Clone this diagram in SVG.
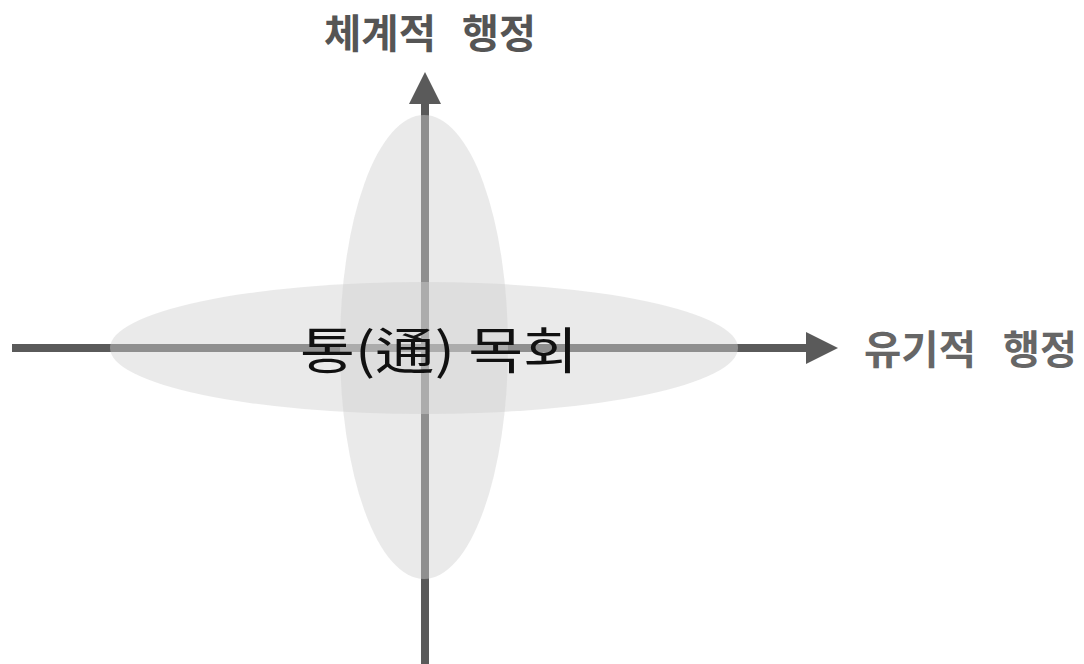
<svg xmlns="http://www.w3.org/2000/svg" width="1084" height="664" viewBox="0 0 1084 664">
<style>
.axis{stroke:#5a5a5a;stroke-width:8;fill:none}
.blob{fill:#d0d0d0;fill-opacity:0.45}
.lbl{font-family:"Noto Sans CJK KR","Noto Sans",sans-serif;font-weight:bold;font-size:40px;fill:#555}
.ctr{font-family:"Noto Sans CJK KR","Noto Sans",sans-serif;font-size:50px;fill:#111}
</style>
<defs>
<marker id="ah" markerWidth="4" markerHeight="4" refX="0" refY="2" orient="auto" markerUnits="strokeWidth" viewBox="0 0 4 4">
<path d="M0,0 L4,2 L0,4 Z" fill="#5a5a5a"/>
</marker>
</defs>
<g id="connectors">
<line id="v-axis" class="axis" x1="425" y1="664" x2="425" y2="104" marker-end="url(#ah)"/>
<line id="h-axis" class="axis" x1="12" y1="348" x2="806" y2="348" marker-end="url(#ah)"/>
</g>
<g id="horizontal-ellipse">
<ellipse class="blob" cx="424" cy="348" rx="314" ry="66"/>
</g>
<g id="vertical-ellipse">
<ellipse class="blob" cx="424" cy="347" rx="84" ry="232"/>
</g>
<g id="center-label">
<text class="ctr" x="300" y="369" textLength="278" lengthAdjust="spacingAndGlyphs">통(通) 목회</text>
</g>
<g id="top-label">
<text class="lbl" y="48"><tspan x="324" textLength="112" lengthAdjust="spacingAndGlyphs">체계적</tspan> <tspan x="462" textLength="74" lengthAdjust="spacingAndGlyphs">행정</tspan></text>
</g>
<g id="right-label">
<text class="lbl" y="364" style="fill:#666"><tspan x="864" textLength="112" lengthAdjust="spacingAndGlyphs">유기적</tspan> <tspan x="1003" textLength="74" lengthAdjust="spacingAndGlyphs">행정</tspan></text>
</g>
</svg>
